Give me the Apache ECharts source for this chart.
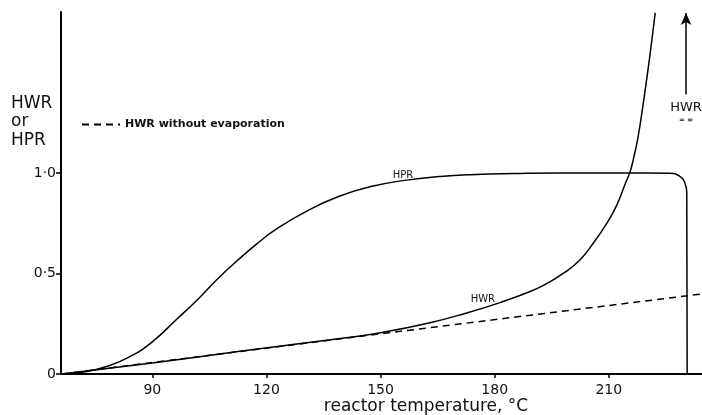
<!DOCTYPE html>
<html>
<head>
<meta charset="utf-8">
<script src="https://cdn.jsdelivr.net/npm/echarts@6/dist/echarts.min.js"></script>
<style>
  html, body { margin: 0; padding: 0; background: #fff; }
  #chart { width: 702px; height: 415px; }
</style>
</head>
<body>
<div id="chart"></div>
<script>
// reactor temperature (degC) vs ratio
const hprTemp = [66.2, 72, 78, 84, 90, 96, 102, 107, 113, 118, 122, 130.6, 139.3, 148.1, 156.9, 165.6, 175, 185, 197, 210, 220, 226, 228.5, 230, 230.5, 230.6]
const hprValue = [0, 0.01, 0.037, 0.085, 0.16, 0.265, 0.372, 0.47, 0.575, 0.655, 0.713, 0.81, 0.885, 0.935, 0.964, 0.982, 0.992, 0.997, 1.0, 1.0, 1.0, 0.998, 0.985, 0.95, 0.9, 0]

const hwrTemp = [66.2, 90, 113, 142, 150, 163, 172, 181.4, 189.3, 193.7, 198, 202.4, 205.9, 209.5, 212.1, 214.3, 215.6, 216.6, 217.7, 219, 220.3, 221.4, 222.2]
const hwrValue = [0, 0.055, 0.113, 0.183, 0.205, 0.255, 0.3, 0.355, 0.41, 0.45, 0.5, 0.567, 0.65, 0.75, 0.84, 0.945, 1.006, 1.08, 1.179, 1.338, 1.512, 1.672, 1.796]

const noEvapTemp = [66.2, 150, 234.5]
const noEvapValue = [0, 0.2, 0.398]

const xTicks = [90, 120, 150, 180, 210]
const yTicks = [0, 0.5, 1.0]

const zip = (a, b) => a.map((v, i) => [v, b[i]])

const chart = echarts.init(document.getElementById("chart"))
const font = "DejaVu Sans"
const option = {
  animation: false,
  backgroundColor: "#fff",
  grid: { left: 61, right: 0, top: 12, bottom: 41 },
  xAxis: {
    type: "value",
    min: 66,
    max: 234.5,
    axisLine: { lineStyle: { color: "#000", width: 2 } },
    axisTick: { show: true, customValues: xTicks, length: 4, lineStyle: { color: "#000", width: 1.5 } },
    axisLabel: { customValues: xTicks, color: "#111", fontFamily: font, fontSize: 14, margin: 9 },
    splitLine: { show: false },
  },
  yAxis: {
    type: "value",
    min: 0,
    max: 1.8,
    axisLine: { show: true, lineStyle: { color: "#000", width: 2 } },
    axisTick: { show: true, customValues: yTicks, length: 5, lineStyle: { color: "#000", width: 1.5 } },
    axisLabel: {
      customValues: yTicks,
      color: "#111",
      fontFamily: font,
      fontSize: 14,
      margin: 5,
      formatter: (v) => (v === 0 ? "0" : v.toFixed(1).replace(".", "·")),
    },
    splitLine: { show: false },
  },
  legend: {
    data: ["HWR without evaporation"],
    left: 76,
    top: 114,
    itemWidth: 38,
    itemHeight: 10,
    itemGap: 6,
    itemStyle: { opacity: 0 },
    textStyle: { fontFamily: font, fontSize: 11, fontWeight: "bold", color: "#111" },
  },
  series: [
    {
      name: "HPR",
      type: "line",
      data: zip(hprTemp, hprValue),
      smooth: 0.5,
      symbol: "none",
      lineStyle: { color: "#000", width: 1.5 },
      markPoint: {
        symbolSize: 0,
        label: { show: true, formatter: "HPR", position: "inside", fontFamily: font, fontSize: 10, color: "#111" },
        data: [{ coord: [155.9, 0.985] }],
      },
      markLine: {
        silent: true,
        symbol: ["none", "arrow"],
        symbolSize: [8, 12],
        label: { show: false },
        lineStyle: { color: "#000", width: 1.5, type: "solid" },
        data: [[{ coord: [230.3, 1.39] }, { coord: [230.3, 1.795] }]],
      },
    },
    {
      name: "HWR",
      type: "line",
      data: zip(hwrTemp, hwrValue),
      smooth: 0.5,
      symbol: "none",
      lineStyle: { color: "#000", width: 1.5 },
      markPoint: {
        symbolSize: 0,
        label: { show: true, formatter: "HWR", position: "inside", fontFamily: font, fontSize: 10, color: "#111" },
        data: [{ coord: [176.9, 0.37] }],
      },
    },
    {
      name: "HWR without evaporation",
      type: "line",
      data: zip(noEvapTemp, noEvapValue),
      symbol: "none",
      lineStyle: { color: "#000", width: 1.5, type: [7, 5] },
    },
  ],
  graphic: [
    {
      type: "text",
      left: 11,
      top: 94,
      style: { text: "HWR\nor\nHPR", fontFamily: font, fontSize: 17, lineHeight: 18.5, fill: "#111" },
    },
    {
      type: "text",
      x: 426,
      y: 407,
      style: { text: "reactor temperature, °C", fontFamily: font, fontSize: 17, fill: "#111", align: "center", verticalAlign: "middle" },
    },
    {
      type: "text",
      x: 686,
      y: 108,
      style: { text: "HWR", fontFamily: font, fontSize: 13, fill: "#111", align: "center", verticalAlign: "middle" },
    },
    {
      type: "text",
      x: 686,
      y: 120,
      style: { text: "= ∞", fontFamily: font, fontSize: 7, fontWeight: "bold", fill: "#111", align: "center", verticalAlign: "middle" },
    },
  ],
}
chart.setOption(option)
</script>
</body>
</html>
